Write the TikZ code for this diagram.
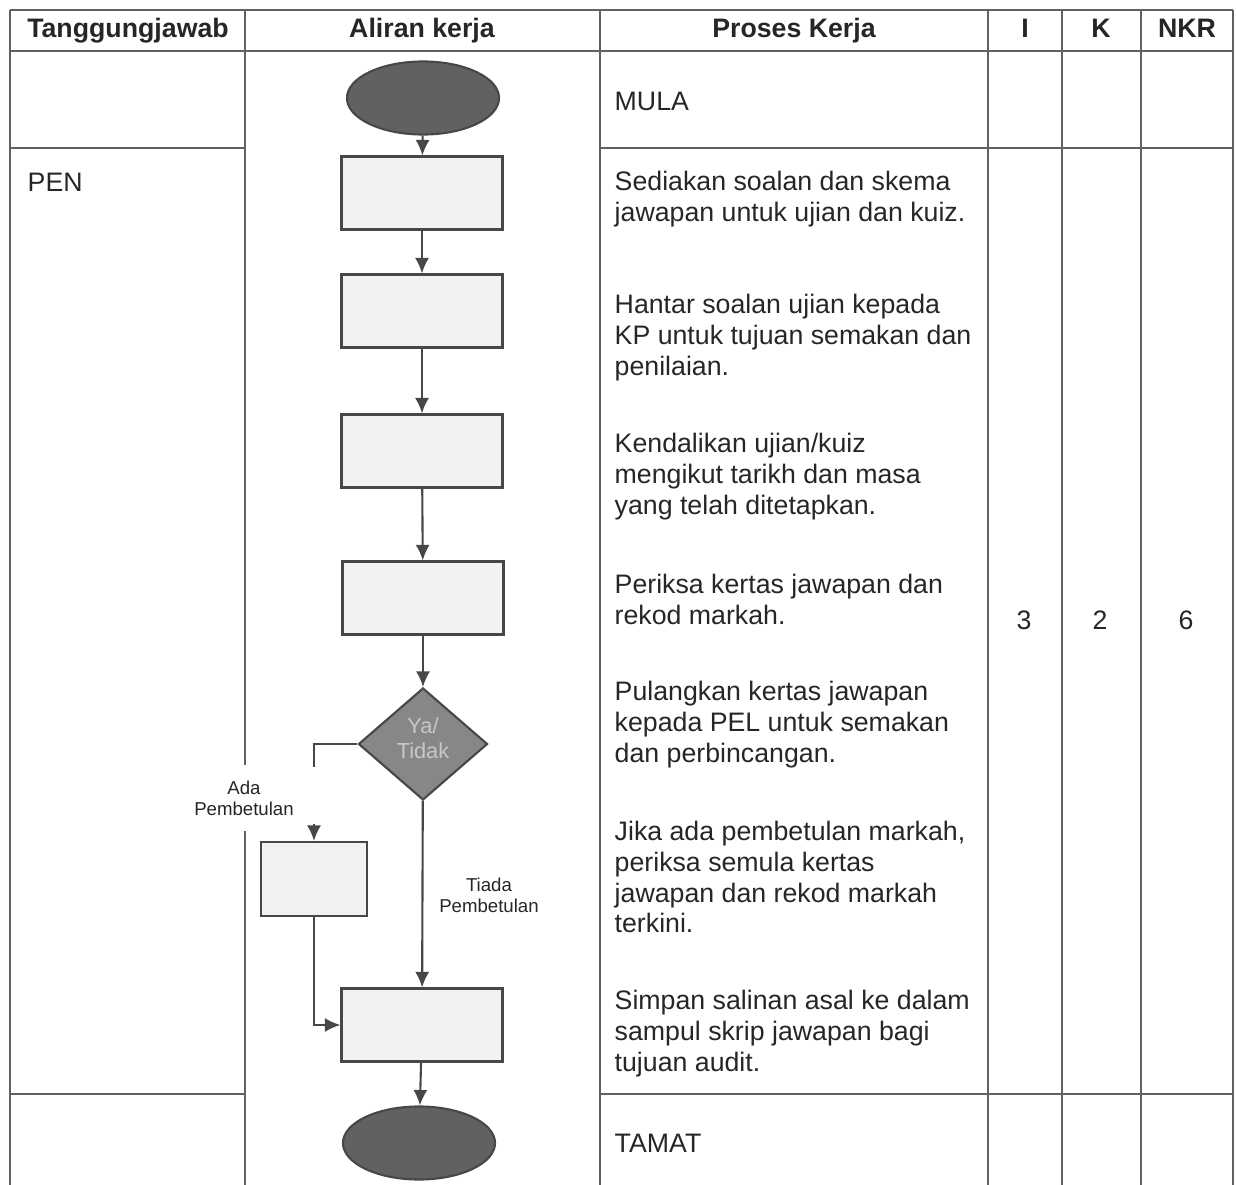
\documentclass[tikz,border=0pt]{standalone}
\usepackage{fontspec}
\setmainfont{Liberation Sans}
\usetikzlibrary{shapes.geometric,arrows.meta}
\tikzset{>={Latex[length=4.4pt,width=4pt]}}
\colorlet{linecol}{black!72}
\colorlet{tabcol}{black!62}
\colorlet{boxfill}{black!5}
\colorlet{endfill}{black!62}
\colorlet{decfill}{black!47}
\colorlet{txtcol}{black!85}
\tikzstyle{tabline}=[tabcol,line width=0.55pt]
\tikzstyle{flow}=[linecol,line width=0.6pt]
\tikzstyle{proc}=[draw=linecol,fill=boxfill,line width=0.6pt,inner sep=0,
  minimum width=1.61cm,minimum height=0.73cm]
\tikzstyle{term}=[draw=linecol,fill=endfill,ellipse,line width=0.6pt,inner sep=0,
  minimum width=1.52cm,minimum height=0.73cm]
\tikzstyle{dec}=[draw=linecol,fill=decfill,diamond,line width=0.6pt,inner sep=0,
  minimum width=1.29cm,minimum height=1.12cm]
\tikzstyle{dectxt}=[text=black!22,align=center,inner sep=0,font=\fontsize{6.2}{7}\selectfont]
\tikzstyle{head}=[txtcol,anchor=base,inner sep=0,font=\fontsize{7.6}{8.8}\selectfont\bfseries]
\tikzstyle{txt}=[txtcol,anchor=west,align=left,inner sep=0,font=\fontsize{7.6}{8.8}\selectfont]
\tikzstyle{small}=[txtcol,align=center,font=\fontsize{5.3}{6}\selectfont]
\def\tx{614} % left edge of text in Proses Kerja

\begin{document}
\begin{tikzpicture}[x=0.01cm,y=-0.01cm]
  \useasboundingbox (0,0) rectangle (1236,1185);
  % table
  \foreach \x in {10,245,600,988,1062,1141,1233}
    \draw[tabline] (\x,10) -- (\x,1185);
  \draw[tabline] (10,10) -- (1233,10);
  \draw[tabline] (10,51) -- (1233,51);
  \foreach \y in {148,1094}{
    \draw[tabline] (10,\y) -- (245,\y);
    \draw[tabline] (600,\y) -- (1233,\y);
  }
  \foreach \x/\t/\n in {128/Tanggungjawab/hT,422/Aliran kerja/hA,794/Proses Kerja/hP,
                         1025/I/hI,1101/K/hK,1187/NKR/hN}
    \node[head] (\n) at (\x,38) {\t};

  % flow
  \node[term] (start) at (423,98) {};
  \node[proc] (sedia) at (422,193) {};
  \node[proc] (hantar) at (422,311) {};
  \node[proc] (kendali) at (422,451) {};
  \node[proc] (periksa) at (423,598) {};
  \node[dec] (pulang) at (423,744) {};
  \node[dectxt] (yt) at (423,738) {Ya/\\Tidak};
  \node[proc,minimum width=1.06cm,minimum height=0.74cm] (semula) at (314,879) {};
  \node[proc] (simpan) at (422,1025) {};
  \node[term] (tamat) at (419,1143) {};
  \draw[flow,->] (start) -- (sedia);
  \draw[flow,->] (sedia) -- (hantar);
  \draw[flow,->] (hantar) -- (kendali);
  \draw[flow,->] (kendali) -- (periksa);
  \draw[flow,->] (periksa) -- (pulang);
  \draw[flow,->] (pulang) -- (simpan);
  \draw[flow,->] (simpan) -- (tamat);
  \coordinate (gapA) at (314,767);
  \coordinate (gapB) at (314,824);
  \draw[flow] (pulang.west) -| (gapA);
  \draw[flow,->] (gapB) -- (semula.north);
  \draw[flow,->] (semula.south) |- (simpan.west);
  \node[small,fill=white,inner xsep=2pt,inner ysep=4.5pt] (ada) at (244,798) {Ada\\Pembetulan};
  \node[small] (tiada) at (489,895) {Tiada\\Pembetulan};

  % text
  \node[txt] (pen) at (27,182) {PEN};
  \node[txt] (mula) at (\tx,101) {MULA};
  \node[txt] (p1) at (\tx,199) {Sediakan soalan dan skema\\jawapan untuk ujian dan kuiz.};
  \node[txt] (p2) at (\tx,338) {Hantar soalan ujian kepada\\KP untuk tujuan semakan dan\\penilaian.};
  \node[txt] (p3) at (\tx,477) {Kendalikan ujian/kuiz\\mengikut tarikh dan masa\\yang telah ditetapkan.};
  \node[txt] (p4) at (\tx,599) {Periksa kertas jawapan dan\\rekod markah.};
  \node[txt] (p5) at (\tx,725) {Pulangkan kertas jawapan\\kepada PEL untuk semakan\\dan perbincangan.};
  \node[txt] (p6) at (\tx,877) {Jika ada pembetulan markah,\\periksa semula kertas\\jawapan dan rekod markah\\terkini.};
  \node[txt] (p7) at (\tx,1034) {Simpan salinan asal ke dalam\\sampul skrip jawapan bagi\\tujuan audit.};
  \node[txt] (tamatT) at (\tx,1143) {TAMAT};
  \node[txt,anchor=center] (nI) at (1024,620) {3};
  \node[txt,anchor=center] (nK) at (1100,620) {2};
  \node[txt,anchor=center] (nN) at (1186,620) {6};
\end{tikzpicture}
\end{document}
